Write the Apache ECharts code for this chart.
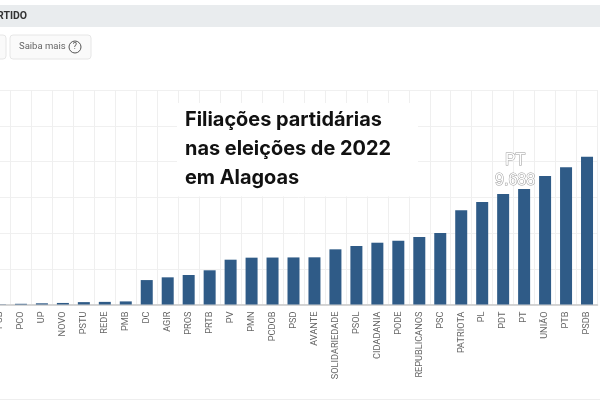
<!DOCTYPE html>
<html>
<head>
<meta charset="utf-8">
<style>
  html, body { margin: 0; padding: 0; background: #fff; }
  #main { width: 600px; height: 400px; }
</style>
<script src="https://cdn.jsdelivr.net/npm/echarts@6/dist/echarts.min.js"></script>
</head>
<body>
<div id="main"></div>
<script>
var partidos = ["PCB", "PCO", "UP", "NOVO", "PSTU", "REDE", "PMB", "DC", "AGIR", "PROS", "PRTB", "PV", "PMN", "PCDOB", "PSD", "AVANTE", "SOLIDARIEDADE", "PSOL", "CIDADANIA", "PODE", "REPUBLICANOS", "PSC", "PATRIOTA", "PL", "PDT", "PT", "UNIÃO", "PTB", "PSDB"];
var filiados = [20, 60, 100, 130, 200, 220, 260, 2050, 2280, 2475, 2870, 3760, 3930, 3940, 3950, 3960, 4630, 4910, 5185, 5350, 5660, 6000, 7900, 8600, 9270, 9688, 10780, 11510, 12400];
var destaque = "PT";

var myChart = echarts.init(document.getElementById("main"));

myChart.setOption({
  animation: false,
  grid: { left: -10.5, right: 2.5, top: 90, bottom: 95.5, outerBoundsMode: "none" },
  xAxis: {
    type: "category",
    data: partidos,
    axisTick: { show: false },
    axisLine: { lineStyle: { color: "#c8c8c8", width: 1.5 } },
    splitLine: { show: true, lineStyle: { color: "#efefef" } },
    axisLabel: { interval: 0, rotate: 90, margin: 7, fontSize: 9.2, color: "#666", fontFamily: "Roboto" }
  },
  yAxis: {
    type: "value",
    min: 0,
    max: 18000,
    interval: 3000,
    axisLabel: { show: false },
    axisLine: { show: false },
    axisTick: { show: false },
    splitLine: { lineStyle: { color: "#f0f0f0" } }
  },
  series: [
    {
      type: "bar",
      barWidth: 12,
      itemStyle: { color: "#2f5b87" },
      data: filiados.map(function (v, i) {
        if (partidos[i] !== destaque) return v;
        // rotulo do destaque, como no tooltip do original
        return {
          value: v,
          label: {
            show: true,
            position: "top",
            offset: [-9, 7],
            formatter: partidos[i] + "\n" + v.toLocaleString("pt-BR"),
            color: "#fff",
            fontSize: 16,
            lineHeight: 20,
            fontFamily: "Liberation Sans",
            textBorderColor: "#999",
            textBorderWidth: 1
          }
        };
      })
    }
  ],
  graphic: [
    // faixa do topo e botoes da pagina
    { type: "rect", z: 100, shape: { x: 0, y: 5, width: 600, height: 22 }, style: { fill: "#e9ecee" } },
    { type: "text", z: 101, x: -3, y: 16.5, style: { text: "RTIDO", fill: "#333", font: "bold 10.5px Roboto", textVerticalAlign: "middle" } },
    { type: "rect", z: 100, shape: { x: -6, y: 35, width: 12, height: 24, r: 3 }, style: { fill: "#fafafa", stroke: "#e6e6e6" } },
    { type: "rect", z: 100, shape: { x: 10, y: 35, width: 81, height: 24, r: 3 }, style: { fill: "#fafafa", stroke: "#e6e6e6" } },
    { type: "text", z: 101, x: 19, y: 47, style: { text: "Saiba mais", fill: "#666", font: "9.5px Roboto", textVerticalAlign: "middle" } },
    { type: "circle", z: 101, shape: { cx: 75, cy: 47, r: 6 }, style: { fill: "none", stroke: "#555", lineWidth: 1 } },
    { type: "text", z: 101, x: 75, y: 47, style: { text: "?", fill: "#555", font: "9px Roboto", textAlign: "center", textVerticalAlign: "middle" } },
    { type: "rect", z: 100, shape: { x: 0, y: 399, width: 600, height: 1 }, style: { fill: "#eeeeee" } },
    // titulo sobre o grafico
    { type: "rect", z: 100, shape: { x: 177, y: 103, width: 241, height: 93.5 }, style: { fill: "#fff" } },
    { type: "text", z: 101, x: 185, y: 120, style: { text: "Filiações partidárias", fill: "#111", font: "700 19.9px Inter", textVerticalAlign: "middle" } },
    { type: "text", z: 101, x: 185, y: 149, style: { text: "nas eleições de 2022", fill: "#111", font: "700 19.9px Inter", textVerticalAlign: "middle" } },
    { type: "text", z: 101, x: 185, y: 178, style: { text: "em Alagoas", fill: "#111", font: "700 19.9px Inter", textVerticalAlign: "middle" } }
  ]
});
</script>
</body>
</html>
